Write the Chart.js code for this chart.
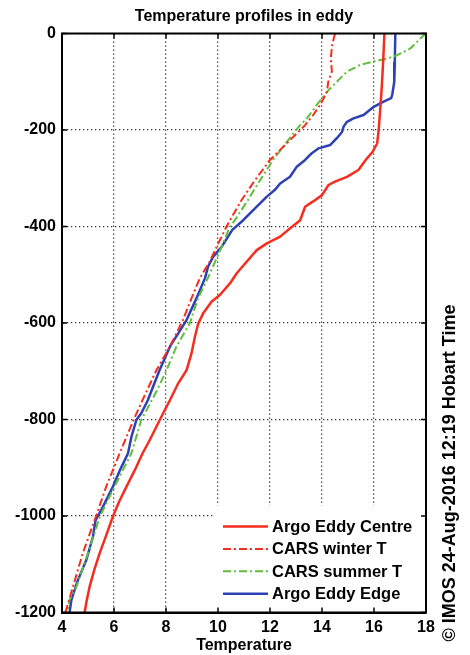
<!DOCTYPE html>
<html>
<head>
<meta charset="utf-8">
<title>Temperature profiles in eddy</title>
<script src="https://cdn.jsdelivr.net/npm/chart.js@4.4.1/dist/chart.umd.min.js"></script>
<style>
  html, body { margin: 0; padding: 0; background: #fff; }
  #wrap { position: relative; width: 470px; height: 655px; }
</style>
</head>
<body>
<div id="wrap"><canvas id="eddyProfiles" width="470" height="655"></canvas></div>
<script>
// depth in m (negative = down), temperature in deg C
const centreDepth = [0, -50, -110, -150, -200, -228, -245, -262, -283, -297, -307, -314, -335, -348, -359, -387, -400, -421, -435, -449, -473, -497, -518, -542, -556, -580, -601, -629, -663, -698, -725, -760, -787, -815, -843, -870, -905, -939, -970, -1002, -1040, -1077, -1110, -1147, -1175, -1200]
const centreTemp = [16.4, 16.36, 16.3, 16.25, 16.18, 16.12, 15.95, 15.68, 15.4, 14.96, 14.5, 14.25, 14.0, 13.66, 13.35, 13.16, 12.86, 12.39, 11.88, 11.49, 11.1, 10.72, 10.46, 10.07, 9.75, 9.43, 9.24, 9.11, 8.98, 8.79, 8.47, 8.15, 7.89, 7.63, 7.37, 7.1, 6.8, 6.48, 6.2, 5.95, 5.7, 5.45, 5.25, 5.06, 4.95, 4.87]

const winterDepth = [0, -24, -50, -79, -100, -121, -148, -169, -190, -221, -262, -304, -345, -387, -400, -442, -472, -507, -549, -594, -649, -698, -750, -801, -870, -939, -1002, -1077, -1147, -1200]
const winterTemp = [14.5, 14.39, 14.34, 14.38, 14.24, 14.19, 13.93, 13.66, 13.35, 12.77, 12.0, 11.42, 10.91, 10.46, 10.33, 9.95, 9.69, 9.3, 8.98, 8.65, 8.15, 7.63, 7.18, 6.75, 6.22, 5.7, 5.3, 4.8, 4.42, 4.13]

const summerDepth = [0, -10, -31, -45, -52, -58, -65, -79, -100, -121, -148, -176, -190, -221, -262, -304, -345, -387, -400, -442, -507, -549, -600, -649, -698, -740, -801, -870, -939, -1002, -1077, -1147, -1174, -1200]
const summerTemp = [18.0, 17.79, 17.4, 16.89, 16.5, 15.97, 15.47, 14.96, 14.57, 14.19, 13.8, 13.42, 13.16, 12.7, 12.12, 11.62, 11.15, 10.65, 10.46, 10.14, 9.61, 9.23, 8.92, 8.4, 8.02, 7.65, 7.05, 6.67, 6.02, 5.45, 5.0, 4.55, 4.29, 4.2]

const edgeDepth = [0, -60, -100, -127, -134, -141, -152, -169, -176, -183, -193, -204, -217, -231, -238, -248, -262, -276, -297, -311, -324, -338, -359, -387, -407, -420, -442, -463, -483, -507, -549, -594, -649, -698, -760, -787, -801, -836, -870, -906, -939, -981, -1009, -1043, -1092, -1133, -1174, -1200]
const edgeTemp = [16.82, 16.8, 16.78, 16.7, 16.66, 16.37, 15.99, 15.6, 15.21, 14.96, 14.83, 14.77, 14.57, 14.32, 13.87, 13.61, 13.35, 13.03, 12.77, 12.39, 12.19, 11.88, 11.49, 10.97, 10.55, 10.4, 10.14, 9.81, 9.62, 9.5, 9.17, 8.79, 8.15, 7.75, 7.3, 7.05, 6.86, 6.67, 6.54, 6.22, 5.96, 5.57, 5.29, 5.19, 4.93, 4.61, 4.36, 4.29]

const tempTicks = [4, 6, 8, 10, 12, 14, 16, 18]
const depthTicks = [0, -200, -400, -600, -800, -1000, -1200]

const red = 'rgb(245, 45, 30)'
const green = 'rgb(95, 190, 60)'
const blue = 'rgb(45, 65, 180)'
const dashDot = [8, 3, 2, 3]
const fontFamily = '"Liberation Sans", Arial, Helvetica, sans-serif'

Chart.defaults.font.family = fontFamily

const toPoints = (depth, temp) => depth.map((d, i) => ({ x: temp[i], y: d }))

// matlab style: legend inside the axes, full box frame, ticks pointing in, stamp on the right
const eddyDecor = {
  id: 'eddyDecor',
  afterDatasetsDraw(chart) {
    const { ctx, chartArea: a } = chart
    const left = a.right - 213
    const top = a.bottom - 107
    ctx.save()
    ctx.fillStyle = '#fff'
    ctx.fillRect(left, top, a.right - left, a.bottom - top)
    ctx.font = `bold 16.5px ${fontFamily}`
    ctx.textBaseline = 'middle'
    ctx.textAlign = 'left'
    chart.data.datasets.forEach((ds, i) => {
      const y = top + 21 + i * 22.4
      ctx.strokeStyle = ds.borderColor
      ctx.lineWidth = ds.borderWidth
      ctx.setLineDash(ds.borderDash || [])
      ctx.beginPath()
      ctx.moveTo(left + 10, y)
      ctx.lineTo(left + 55, y)
      ctx.stroke()
      ctx.setLineDash([])
      ctx.fillStyle = '#000'
      ctx.fillText(ds.label, left + 59, y + 1)
    })
    ctx.restore()
  },
  afterDraw(chart) {
    const { ctx, chartArea: a, scales } = chart
    ctx.save()
    ctx.strokeStyle = '#000'
    ctx.lineWidth = 1.5
    ctx.beginPath()
    tempTicks.forEach(v => {
      const px = scales.x.getPixelForValue(v)
      ctx.moveTo(px, a.bottom); ctx.lineTo(px, a.bottom - 5)
      ctx.moveTo(px, a.top); ctx.lineTo(px, a.top + 5)
    })
    depthTicks.forEach(v => {
      const py = scales.y.getPixelForValue(v)
      ctx.moveTo(a.left, py); ctx.lineTo(a.left + 5, py)
      ctx.moveTo(a.right, py); ctx.lineTo(a.right - 5, py)
    })
    ctx.stroke()
    ctx.lineWidth = 2
    ctx.strokeRect(a.left, a.top, a.right - a.left, a.bottom - a.top)

    ctx.translate(450, 473)
    ctx.rotate(-Math.PI / 2)
    ctx.font = `bold 18px ${fontFamily}`
    ctx.fillStyle = '#000'
    ctx.textAlign = 'center'
    ctx.textBaseline = 'middle'
    ctx.fillText('© IMOS 24-Aug-2016 12:19 Hobart Time', 0, 0)
    ctx.restore()
  }
}

const lineSet = (label, depth, temp, color, width, dash) => ({
  label: label,
  data: toPoints(depth, temp),
  borderColor: color,
  backgroundColor: color,
  borderWidth: width,
  borderDash: dash,
  showLine: true,
  pointRadius: 0,
  tension: 0,
  borderJoinStyle: 'round',
})

const tickFont = { size: 16, weight: 'bold' }

new Chart(document.getElementById('eddyProfiles'), {
  type: 'scatter',
  data: {
    datasets: [
      lineSet('Argo Eddy Centre', centreDepth, centreTemp, red, 2.5, []),
      lineSet('CARS winter T', winterDepth, winterTemp, red, 2, dashDot),
      lineSet('CARS summer T', summerDepth, summerTemp, green, 2, dashDot),
      lineSet('Argo Eddy Edge', edgeDepth, edgeTemp, blue, 2.5, []),
    ]
  },
  options: {
    responsive: false,
    animation: false,
    layout: { padding: { left: 0, right: 44, top: 0, bottom: 0 } },
    plugins: {
      legend: { display: false },
      tooltip: { enabled: false },
      title: {
        display: true,
        text: 'Temperature profiles in eddy',
        fullSize: false,
        color: '#000',
        font: { size: 16, weight: 'bold' },
        padding: { top: 7, bottom: 7.3 },
      },
    },
    scales: {
      x: {
        type: 'linear',
        min: 4,
        max: 18,
        afterBuildTicks: s => { s.ticks = tempTicks.map(v => ({ value: v })) },
        afterFit: s => { s.height = 42.5 },
        grid: { color: '#333', lineWidth: 1.3, drawTicks: false },
        border: { color: '#000', width: 2, dash: [1.3, 2.7] },
        ticks: { padding: 5, color: '#000', font: tickFont, callback: v => String(v), maxRotation: 0 },
        title: { display: true, text: 'Temperature', color: '#000', font: tickFont, padding: { top: 0, bottom: 0 } },
      },
      y: {
        type: 'linear',
        min: -1200,
        max: 0,
        afterBuildTicks: s => { s.ticks = depthTicks.map(v => ({ value: v })) },
        afterFit: s => { s.width = 62 },
        grid: { color: '#333', lineWidth: 1.3, drawTicks: false },
        border: { color: '#000', width: 2, dash: [1.3, 2.7] },
        ticks: { padding: 6, color: '#000', font: tickFont, callback: v => String(v) },
      },
    },
  },
  plugins: [eddyDecor],
})
</script>
</body>
</html>
